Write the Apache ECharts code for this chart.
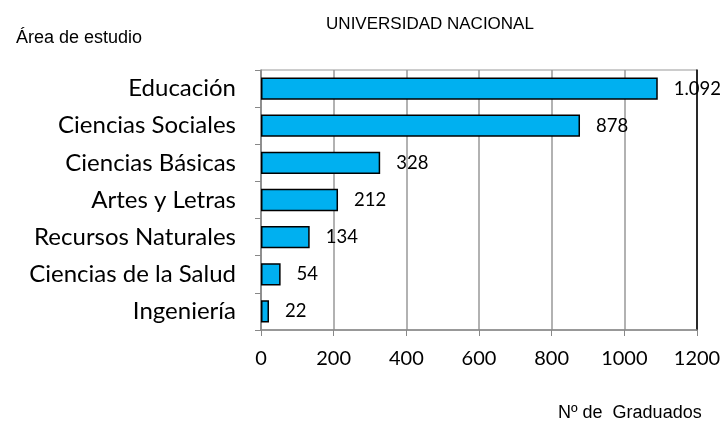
<!DOCTYPE html>
<html>
<head>
<meta charset="utf-8">
<script src="https://cdn.jsdelivr.net/npm/echarts@6/dist/echarts.min.js"></script>
<style>
  html, body { margin: 0; padding: 0; background: #fff; }
  #chart { width: 725px; height: 422px; }
</style>
</head>
<body>
<div id="chart"></div>
<script>
// data, bottom to top as the axis draws it
var categories = ['Ingeniería', 'Ciencias de la Salud', 'Recursos Naturales', 'Artes y Letras', 'Ciencias Básicas', 'Ciencias Sociales', 'Educación'];
var graduados = [22, 54, 134, 212, 328, 878, 1092];
var xTicks = [0, 200, 400, 600, 800, 1000, 1200];

var labelFont = 'Lato, "Open Sans", sans-serif';
var titleFont = '"Liberation Sans", Arial, sans-serif';

// spanish style thousands separator
function fmt(v) {
  return String(v).replace(/\B(?=(\d{3})+(?!\d))/g, '.');
}

var myChart = echarts.init(document.getElementById('chart'));

var option = {
  animation: false,
  title: [
    {
      text: 'UNIVERSIDAD NACIONAL',
      left: 425, top: 11, textAlign: 'center',
      textStyle: { fontFamily: titleFont, fontWeight: 'normal', fontSize: 17, color: '#000' }
    },
    {
      text: 'Área de estudio',
      left: 11, top: 24,
      textStyle: { fontFamily: titleFont, fontWeight: 'normal', fontSize: 18, color: '#000' }
    },
    {
      text: 'Nº de  Graduados',
      left: 553, top: 399,
      textStyle: { fontFamily: titleFont, fontWeight: 'normal', fontSize: 18, color: '#000' }
    }
  ],
  grid: {
    left: 261, right: 28, top: 70, bottom: 92,
    show: true, borderColor: '#999', borderWidth: 1
  },
  xAxis: {
    type: 'value',
    min: xTicks[0], max: xTicks[xTicks.length - 1], interval: 200,
    axisLine: { show: true, lineStyle: { color: '#888', width: 1.5 } },
    axisTick: { show: true, length: 6, lineStyle: { color: '#888' } },
    splitLine: { show: true, lineStyle: { color: '#999', width: 1.5 } },
    axisLabel: {
      color: '#000', fontSize: 20, fontFamily: labelFont, margin: 19,
      formatter: function (v) { return String(v); }
    }
  },
  yAxis: [
    {
      type: 'category',
      data: categories,
      axisLine: { show: true, lineStyle: { color: '#888', width: 1.5 } },
      axisTick: { show: true, length: 6, lineStyle: { color: '#888' } },
      axisLabel: { color: '#000', fontSize: 24, fontFamily: labelFont, margin: 25 }
    },
    {
      type: 'category',
      data: categories,
      position: 'right',
      axisLine: { show: true, lineStyle: { color: '#000', width: 1.5 } },
      axisTick: { show: false },
      axisLabel: { show: false }
    }
  ],
  series: [
    {
      type: 'bar',
      data: graduados,
      barWidth: '60%',
      itemStyle: { color: '#00B0F0', borderColor: '#000', borderWidth: 1.5 },
      label: {
        show: true, position: 'right', distance: 16,
        color: '#000', fontSize: 18.5, fontFamily: labelFont,
        formatter: function (p) { return fmt(p.value); }
      }
    }
  ]
};

myChart.setOption(option);
</script>
</body>
</html>
